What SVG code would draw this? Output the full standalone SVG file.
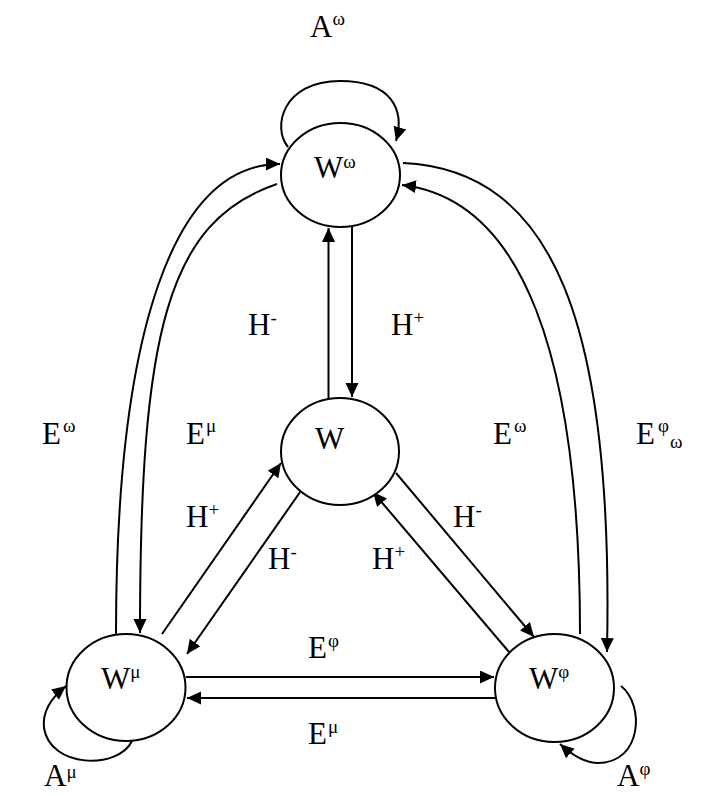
<svg xmlns="http://www.w3.org/2000/svg" width="706" height="796" viewBox="0 0 706 796">
<style>
.node{fill:#fff;stroke:#000;stroke-width:2}
.edge{fill:none;stroke:#000;stroke-width:2;marker-end:url(#arr)}
text{font-family:"Liberation Serif","Times New Roman",serif;font-size:31px;fill:#000}
.s{font-size:19px}
</style>
<defs>
<marker id="arr" markerUnits="userSpaceOnUse" markerWidth="16" markerHeight="14" refX="14" refY="6.5" orient="auto">
<path d="M0,0 L14,6.5 L0,13 z" fill="#000"/>
</marker>
</defs>
<rect width="706" height="796" fill="#fff"/>
<g id="connectors">
<path class="edge" d="M288,147 C272,128 282,81 340,81 C392,81 405,110 396,141"/>
<path class="edge" d="M328.5,398 L328.5,228"/>
<path class="edge" d="M352,227 L352,397"/>
<path class="edge" d="M116,634 C116,330 174,164 280,164"/>
<path class="edge" d="M277,184 C167,221 140,333 140,633"/>
<path class="edge" d="M403,163 C553,170 614,322 607,652"/>
<path class="edge" d="M580,634 C580,354 522,199 402,185"/>
<path class="edge" d="M162,634 L281,463"/>
<path class="edge" d="M305,485 L187,654"/>
<path class="edge" d="M396,473 L534,637"/>
<path class="edge" d="M509,652 L373,492"/>
<path class="edge" d="M186,677 L494,677"/>
<path class="edge" d="M495,698 L187,698"/>
<path class="edge" d="M132,741 C118,770 50,768 44,728 C42,710 52,697 66,686"/>
<path class="edge" d="M621,686 C645,705 642,763 598,763 C585,763 572,755 560,744"/>
</g>
<g id="node-Womega"><ellipse class="node" cx="340.5" cy="175" rx="59.5" ry="52"/><text x="314" y="178">W<tspan class="s" dy="-10">ω</tspan></text></g>
<g id="node-W"><ellipse class="node" cx="340" cy="451.5" rx="59" ry="53.5"/><text x="315" y="449">W</text></g>
<g id="node-Wmu"><ellipse class="node" cx="126" cy="687.5" rx="59.5" ry="53.5"/><text x="101" y="689">W<tspan class="s" dy="-11">μ</tspan></text></g>
<g id="node-Wphi"><ellipse class="node" cx="554.5" cy="688" rx="59.5" ry="54"/><text x="529" y="689">W<tspan class="s" dy="-11">φ</tspan></text></g>
<g id="labels">
<text x="310" y="37">A<tspan class="s" dy="-12">ω</tspan></text>
<text x="44" y="786">A<tspan class="s" dy="-8">μ</tspan></text>
<text x="617" y="786">A<tspan class="s" dy="-11">φ</tspan></text>
<text x="42" y="444">E<tspan class="s" dx="2" dy="-12">ω</tspan></text>
<text x="186" y="444">E<tspan class="s" dx="1" dy="-12">μ</tspan></text>
<text x="493" y="444">E<tspan class="s" dx="2" dy="-12">ω</tspan></text>
<text x="636" y="444">E<tspan class="s" dx="3" dy="-12">φ</tspan><tspan class="s" dx="1" dy="16">ω</tspan></text>
<text x="248" y="335">H<tspan class="s" dy="-11">-</tspan></text>
<text x="391" y="335">H<tspan class="s" dy="-11">+</tspan></text>
<text x="186" y="527">H<tspan class="s" dy="-11">+</tspan></text>
<text x="453" y="527">H<tspan class="s" dy="-11">-</tspan></text>
<text x="268" y="569">H<tspan class="s" dy="-11">-</tspan></text>
<text x="372" y="569">H<tspan class="s" dy="-11">+</tspan></text>
<text x="308" y="658">E<tspan class="s" dx="1" dy="-11">φ</tspan></text>
<text x="308" y="744">E<tspan class="s" dx="1" dy="-11">μ</tspan></text>
</g>
</svg>
